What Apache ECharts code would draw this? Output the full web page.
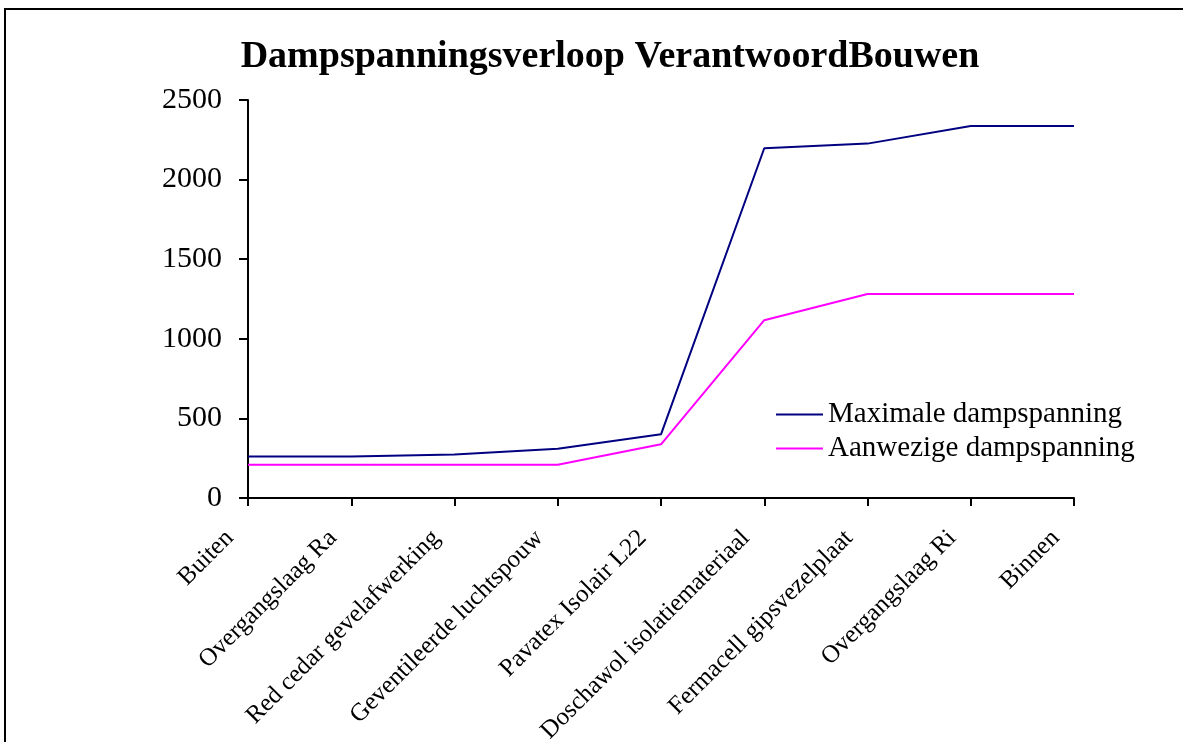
<!DOCTYPE html>
<html>
<head>
<meta charset="utf-8">
<script src="https://cdn.jsdelivr.net/npm/echarts@6/dist/echarts.min.js"></script>
<style>
html,body{margin:0;padding:0;background:#fff;}
#chart{width:1183px;height:742px;}
</style>
</head>
<body>
<div id="chart"></div>
<script>
const categories = ['Buiten','Overgangslaag Ra','Red cedar gevelafwerking','Geventileerde luchtspouw','Pavatex Isolair L22','Doschawol isolatiemateriaal','Fermacell gipsvezelplaat','Overgangslaag Ri','Binnen'];
const maximale = [260,260,274,310,400,2197,2226,2337,2337];
const aanwezige = [209,209,209,209,337,1117,1281,1281,1281];
const seriesNames = ['Maximale dampspanning','Aanwezige dampspanning'];

const chart = echarts.init(document.getElementById('chart'));
const serif = '"Liberation Serif","Times New Roman",serif';
chart.setOption({
  animation:false,
  backgroundColor:'#fff',
  graphic:[{type:'rect',shape:{x:5,y:9,width:1250,height:800},style:{fill:'none',stroke:'#000',lineWidth:2},silent:true}],
  title:{text:'Dampspanningsverloop VerantwoordBouwen',left:605,textAlign:'center',top:33,
    textStyle:{fontFamily:serif,fontWeight:'bold',fontSize:38,color:'#000'}},
  legend:{orient:'vertical',left:771,top:395,itemWidth:47,itemHeight:2,itemGap:5,icon:'rect',
    textStyle:{fontFamily:serif,fontSize:29,color:'#000',padding:[0,0,0,0]},
    data:seriesNames},
  grid:{left:248,right:109,top:100,bottom:244,outerBoundsMode:'none',containLabel:false},
  xAxis:{type:'category',data:categories,boundaryGap:false,
    axisLine:{lineStyle:{color:'#000',width:2}},
    axisTick:{show:true,length:8,lineStyle:{color:'#000',width:2}},
    axisLabel:{rotate:45,interval:0,margin:18,padding:[0,26,0,0],color:'#000',fontFamily:serif,fontSize:25}},
  yAxis:{type:'value',min:0,max:2500,interval:500,
    axisLine:{show:true,lineStyle:{color:'#000',width:2}},
    axisTick:{show:true,length:9,lineStyle:{color:'#000',width:2}},
    splitLine:{show:false},
    axisLabel:{margin:26,color:'#000',fontFamily:serif,fontSize:30,formatter:function(v){return String(v);}}},
  series:[
    {name:seriesNames[0],type:'line',data:maximale,showSymbol:false,lineStyle:{color:'#000080',width:2},itemStyle:{color:'#000080'}},
    {name:seriesNames[1],type:'line',data:aanwezige,showSymbol:false,lineStyle:{color:'#FF00FF',width:2},itemStyle:{color:'#FF00FF'}}
  ]
});
</script>
</body>
</html>
